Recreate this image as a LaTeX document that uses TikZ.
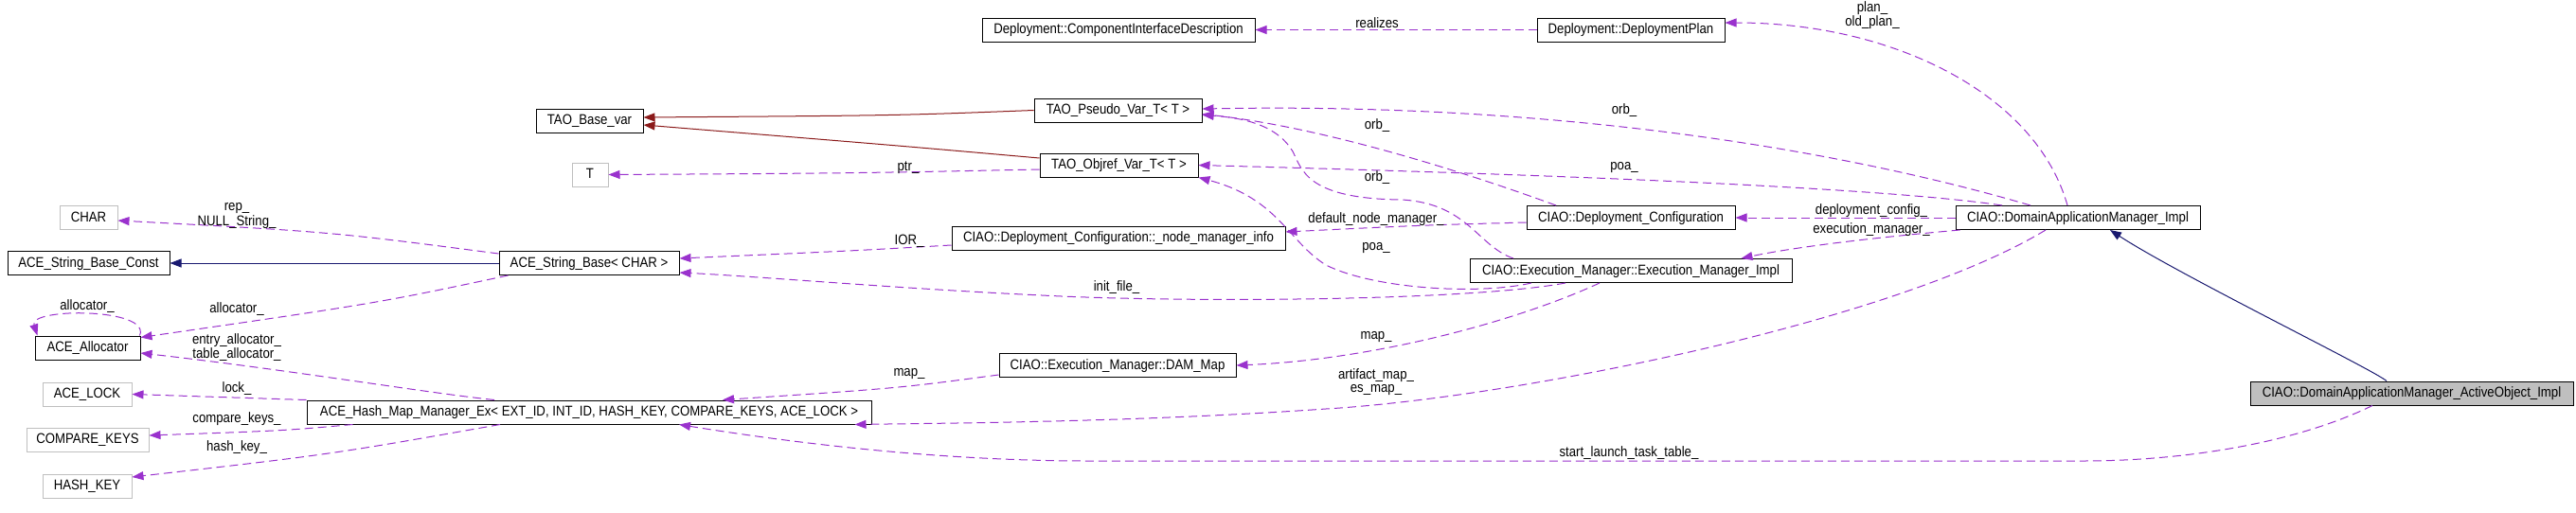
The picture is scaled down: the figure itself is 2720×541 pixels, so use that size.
\documentclass[tikz,border=0pt]{standalone}
\usepackage{fontspec}
\setmainfont{Liberation Sans}[FakeStretch=0.88]
\usetikzlibrary{arrows.meta,calc}
\definecolor{edgepurple}{HTML}{9A32CD}
\definecolor{inhblue}{HTML}{191970}
\definecolor{tplred}{HTML}{8B1A1A}
\definecolor{graybd}{HTML}{BFBFBF}
\tikzset{
  cls/.style={draw=black, line width=1pt, inner sep=0pt, minimum height=25pt, text height=11pt, text depth=3pt},
  extcls/.style={cls, draw=graybd},
  curcls/.style={cls, fill=graybd},
  lbl/.style={inner sep=0pt},
  usedge/.style={draw=edgepurple, line width=1pt, dash pattern=on 9pt off 5pt, -{Triangle[length=12pt,width=9pt]}},
  inhedge/.style={draw=inhblue, line width=1pt, -{Triangle[length=12pt,width=9pt]}},
  tpledge/.style={draw=tplred, line width=1pt, -{Triangle[length=12pt,width=9pt]}}
}
\begin{document}
\begin{tikzpicture}[x=1pt,y=-1pt,font=\fontsize{15pt}{18pt}\selectfont]
\useasboundingbox (0,0) rectangle (2720,541);
% nodes
\node[curcls, minimum width=341pt] (ao) at (2546.5,415.5) {CIAO::DomainApplicationManager\_ActiveObject\_Impl};
\node[cls, minimum width=258pt] (dami) at (2194,230) {CIAO::DomainApplicationManager\_Impl};
\node[cls, minimum width=198pt] (dp) at (1722,31.5) {Deployment::DeploymentPlan};
\node[cls, minimum width=288pt] (cid) at (1181,31.5) {Deployment::ComponentInterfaceDescription};
\node[cls, minimum width=177pt] (pseudo) at (1180.5,116.5) {TAO\_Pseudo\_Var\_T< T >};
\node[cls, minimum width=167pt] (objref) at (1181.5,174.5) {TAO\_Objref\_Var\_T< T >};
\node[cls, minimum width=113pt] (basevar) at (622.5,127.5) {TAO\_Base\_var};
\node[extcls, minimum width=38pt] (T) at (623,184.5) {T};
\node[extcls, minimum width=61pt] (char) at (93.5,230) {CHAR};
\node[cls, minimum width=171pt] (sbc) at (93.5,278) {ACE\_String\_Base\_Const};
\node[cls, minimum width=190pt] (sb) at (622,278) {ACE\_String\_Base< CHAR >};
\node[cls, minimum width=111pt] (alloc) at (92.5,367.5) {ACE\_Allocator};
\node[extcls, minimum width=94pt] (lock) at (92,416.5) {ACE\_LOCK};
\node[extcls, minimum width=129pt] (ck) at (92.5,464.5) {COMPARE\_KEYS};
\node[extcls, minimum width=94pt] (hk) at (92,513.5) {HASH\_KEY};
\node[cls, minimum width=596pt] (hm) at (622,435.5) {ACE\_Hash\_Map\_Manager\_Ex< EXT\_ID, INT\_ID, HASH\_KEY, COMPARE\_KEYS, ACE\_LOCK >};
\node[cls, minimum width=352pt] (nmi) at (1181,251.5) {CIAO::Deployment\_Configuration::\_node\_manager\_info};
\node[cls, minimum width=220pt] (dc) at (1722,230) {CIAO::Deployment\_Configuration};
\node[cls, minimum width=340pt] (emi) at (1722,286) {CIAO::Execution\_Manager::Execution\_Manager\_Impl};
\node[cls, minimum width=250pt] (dam) at (1180,386) {CIAO::Execution\_Manager::DAM\_Map};
% inheritance
\draw[inhedge] ($(ao.north)+(-26.5,0)$) .. controls (2505,390) and (2300,290) .. ($(dami.south)+(34,0)$);
\draw[inhedge] (sb.west) -- (sbc.east);
% template
\draw[tpledge] (pseudo.west) .. controls (950,122) .. ($(basevar.east)+(0,-3.5)$);
\draw[tpledge] ($(objref.west)+(0,-7.5)$) .. controls (950,154) .. ($(basevar.east)+(0,4.5)$);
% usage
\draw[usedge] (dp.west) -- (cid.east);
\draw[usedge] ($(dami.north)+(-11,0)$) .. controls (2150,100) and (2000,24) .. ($(dp.east)+(0,-7.5)$);
\draw[usedge] ($(dami.north)+(-50,0)$) .. controls (1950,160) and (1650,108) .. ($(pseudo.east)+(0,-1.5)$);
\draw[usedge] ($(dami.north)+(-80,0)$) .. controls (2000,200) and (1700,186) .. (objref.east);
\draw[usedge] (dami.west) -- (dc.east);
\draw[usedge] ($(dami.south west)+(5,0)$) .. controls (1990,250) and (1900,260) .. ($(emi.north east)+(-54,0)$);
\draw[usedge] ($(dami.south)+(-34,0)$) .. controls (2000,340) and (1600,420) .. (1400,432) .. controls (1200,446) and (1000,447) .. ($(hm.south east)+(-18,0)$);
\draw[usedge] ($(ao.south)+(-41.5,0)$) .. controls (2420,470) and (2300,487) .. (2200,487) -- (1150,487) .. controls (1000,487) and (850,470) .. ($(hm.south)+(95,0)$);
\draw[usedge] ($(emi.south)+(-33,0)$) .. controls (1600,340) and (1450,380) .. (dam.east);
\draw[usedge] ($(dam.west)+(0,10)$) .. controls (950,410) .. ($(hm.north)+(141,0)$);
\draw[usedge] ($(emi.south)+(-69,0)$) .. controls (1550,318) and (1250,320) .. (1100,312) .. controls (950,305) and (800,292) .. ($(sb.east)+(0,10)$);
\draw[usedge] ($(emi.south)+(-105,0)$) .. controls (1560,312) and (1450,305) .. (1400,280) .. controls (1360,255) and (1350,210) .. (objref.south east);
\draw[usedge] ($(emi.north)+(-124,0)$) .. controls (1560,260) and (1550,215) .. (1480,211) .. controls (1380,210) and (1375,180) .. (1365,160) .. controls (1350,135) and (1320,125) .. ($(pseudo.east)+(0,5)$);
\draw[usedge] ($(dc.north)+(-79,0)$) .. controls (1550,183) and (1400,135) .. ($(pseudo.east)+(0,4)$);
\draw[usedge] ($(dc.west)+(0,5)$) .. controls (1500,238) .. ($(nmi.east)+(0,-6.5)$);
\draw[usedge] ($(nmi.west)+(0,7.5)$) .. controls (900,265) .. ($(sb.east)+(0,-5)$);
\draw[usedge] ($(sb.north west)+(0,3)$) .. controls (350,245) .. ($(char.east)+(0,3)$);
\draw[usedge] ($(sb.south west)+(10,0)$) .. controls (400,320) .. ($(alloc.north east)+(0,2)$);
\draw[usedge] ($(alloc.north east)+(-1,0)$) .. controls (160,325) and (30,325) .. ($(alloc.north west)+(3,0)$);
\draw[usedge] ($(hm.north)+(-100,0)$) .. controls (450,415) and (300,390) .. ($(alloc.east)+(0,5.5)$);
\draw[usedge] (hm.north west) -- (lock.east);
\draw[usedge] ($(hm.south west)+(49,0)$) .. controls (300,455) .. ($(ck.east)+(0,-4.5)$);
\draw[usedge] ($(hm.south)+(-94,0)$) .. controls (350,480) .. ($(hk.east)+(0,-9.5)$);
\draw[usedge] ($(objref.west)+(0,4.5)$) .. controls (900,183) .. (T.east);
% labels
\node[lbl] (l1) at (1454,24) {realizes};
\node[lbl] (l2) at (1977,9) {plan\_};
\node[lbl] (l3) at (1977,24) {old\_plan\_};
\node[lbl] (l4) at (1715,117) {orb\_};
\node[lbl] (l5) at (1454,133) {orb\_};
\node[lbl] (l6) at (1715,177) {poa\_};
\node[lbl] (l7) at (1454,188) {orb\_};
\node[lbl] (l8) at (959,177) {ptr\_};
\node[lbl] (l9) at (1453,232) {default\_node\_manager\_};
\node[lbl] (l10) at (1976,223) {deployment\_config\_};
\node[lbl] (l11) at (1976,243) {execution\_manager\_};
\node[lbl] (l12) at (1453,262) {poa\_};
\node[lbl] (l13) at (960,255) {IOR\_};
\node[lbl] (l14) at (1179,304) {init\_file\_};
\node[lbl] (l15) at (1453,356) {map\_};
\node[lbl] (l16) at (960,395) {map\_};
\node[lbl] (l17) at (1453,397) {artifact\_map\_};
\node[lbl] (l18) at (1453,412) {es\_map\_};
\node[lbl] (l19) at (1720,479) {start\_launch\_task\_table\_};
\node[lbl] (l20) at (250,220) {rep\_};
\node[lbl] (l21) at (250,235) {NULL\_String\_};
\node[lbl] (l22) at (92,324) {allocator\_};
\node[lbl] (l23) at (250,327) {allocator\_};
\node[lbl] (l24) at (250,360) {entry\_allocator\_};
\node[lbl] (l25) at (250,375) {table\_allocator\_};
\node[lbl] (l26) at (250,411) {lock\_};
\node[lbl] (l27) at (250,443) {compare\_keys\_};
\node[lbl] (l28) at (250,473) {hash\_key\_};
\end{tikzpicture}
\end{document}
